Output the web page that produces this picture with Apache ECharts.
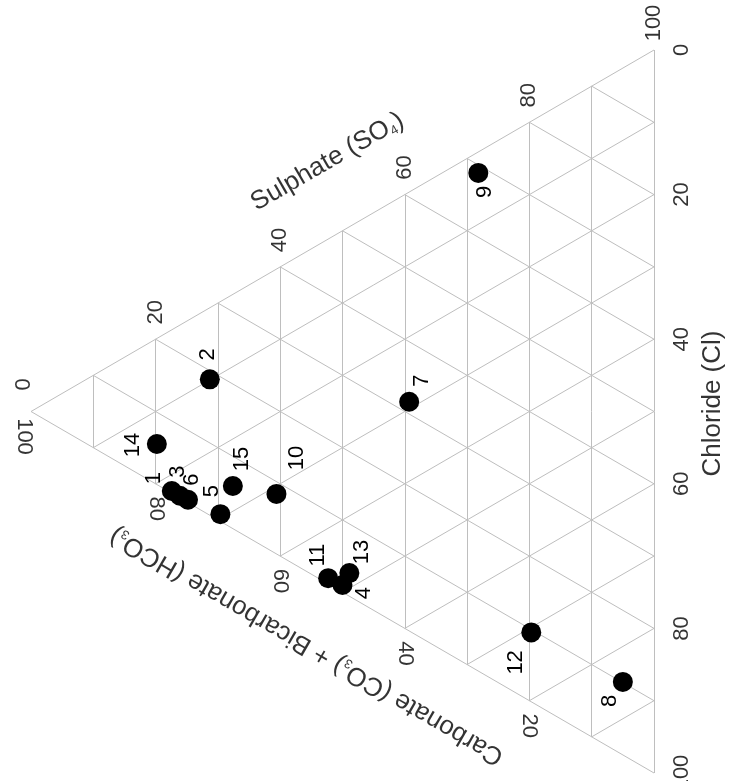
<!DOCTYPE html>
<html>
<head>
<meta charset="utf-8">
<script src="https://cdn.jsdelivr.net/npm/echarts@6/dist/echarts.min.js"></script>
<style>
  html, body { margin: 0; padding: 0; background: #fff; }
  #main { width: 735px; height: 781px; }
</style>
</head>
<body>
<div id="main"></div>
<script>
// anion compositions in %
var sampleIds = ['1', '2', '3', '4', '5', '6', '7', '8', '9', '10', '11', '12', '13', '14', '15'];
var sulphate  = [0.3, 18.8, 0.3, 1.0, 1.0, 0.4, 31.7, 10.1, 68.9, 8.3, 0.8, 9.6, 3.2, 5.6, 5.9];
var chloride  = [22.3, 9.9, 23.6, 49.0, 29.4, 24.8, 29.0, 84.9, 2.9, 31.1, 46.9, 70.7, 47.9, 14.6, 26.5];
var carbonate = [77.4, 71.3, 76.1, 50.0, 69.6, 74.8, 39.3, 5.0, 28.2, 60.6, 52.3, 19.7, 48.9, 79.8, 67.6];

var tickValues = [0, 20, 40, 60, 80, 100];
var gridSteps = [10, 20, 30, 40, 50, 60, 70, 80, 90];

// label nudges in screen px (style only)
var labelNudge = [[-18, -13], [-2, -25], [-2, -24], [21, 8], [-8, -23], [4, -20], [13, -21], [-13, 19],
  [7, 19], [20, -36], [-10, -23], [-15, 30], [13, -21], [-24, 1], [9, -27]];

var FONT = '"Liberation Sans", Arial, Helvetica, sans-serif';
var GRID_COLOR = '#bebebe';
var H = Math.sqrt(3) / 2;

// ternary (carbonate, sulphate, chloride) -> plane
function tern(a, b, c) {
  var s = a + b + c;
  return [(b + c) / s * H, (b - c) / s / 2];
}

// offset given in screen px, compensate for label rotation
function nudge(dx, dy, deg) {
  var r = deg * Math.PI / 180;
  return [dx * Math.cos(r) - dy * Math.sin(r), dx * Math.sin(r) + dy * Math.cos(r)];
}

var gridLines = [];
gridSteps.forEach(function (k) {
  gridLines.push({ coords: [tern(100 - k, k, 0), tern(0, k, 100 - k)] });
  gridLines.push({ coords: [tern(100 - k, 0, k), tern(0, 100 - k, k)] });
  gridLines.push({ coords: [tern(k, 100 - k, 0), tern(k, 0, 100 - k)] });
});
gridLines.push({ coords: [tern(100, 0, 0), tern(0, 100, 0)] });
gridLines.push({ coords: [tern(0, 100, 0), tern(0, 0, 100)] });
gridLines.push({ coords: [tern(0, 0, 100), tern(100, 0, 0)] });

var points = sampleIds.map(function (id, i) {
  var n = labelNudge[i];
  return {
    name: id,
    value: tern(carbonate[i], sulphate[i], chloride[i]),
    label: { offset: nudge(n[0], n[1], 90) }
  };
});

function tickItems(fn, off, rot) {
  return tickValues.map(function (t) {
    // labels at the left apex sit a little further out
    var dx = (fn === sulTick && t === 0) || (fn === carTick && t === 100) ? -7 : 0;
    return { value: fn(t), label: { formatter: String(t), offset: nudge(off[0] + dx, off[1], rot), rotate: rot } };
  });
}
function sulTick(t) { return tern(100 - t, t, 0); }
function cloTick(t) { return tern(0, 100 - t, t); }
function carTick(t) { return tern(t, 0, 100 - t); }

var ticks = []
  .concat(tickItems(sulTick, [0, -27], 90))
  .concat(tickItems(cloTick, [28, 0], 90))
  .concat(tickItems(carTick, [0, 25], -90));

var titles = [
  { value: tern(50, 50, 0), label: { formatter: '{t|Sulphate (SO}{s|4}{t|)}', rotate: 30, offset: nudge(-15, -69, 30) } },
  { value: tern(0, 50, 50), label: { formatter: '{t|Chloride (Cl)}', rotate: 90, offset: nudge(59, -8, 90) } },
  { value: tern(50, 0, 50), label: { formatter: '{t|Carbonate (CO}{s|3}{t|) + Bicarbonate (HCO}{s|3}{t|)}', rotate: 150, offset: nudge(-36, 54, 150) } }
];

var chart = echarts.init(document.getElementById('main'));
chart.setOption({
  animation: false,
  backgroundColor: '#fff',
  grid: { left: 31, top: 50, width: 623, height: 723 },
  xAxis: { type: 'value', min: 0, max: H, show: false },
  yAxis: { type: 'value', min: -0.5, max: 0.5, show: false },
  series: [
    {
      type: 'lines',
      coordinateSystem: 'cartesian2d',
      silent: true,
      clip: false,
      lineStyle: { color: GRID_COLOR, width: 1, opacity: 1 },
      data: gridLines,
      z: 1
    },
    {
      type: 'scatter',
      silent: true,
      clip: false,
      symbolSize: 1,
      itemStyle: { color: 'rgba(0,0,0,0)' },
      label: {
        show: true, position: 'inside', color: '#000', fontSize: 22, fontFamily: FONT,
        align: 'center', verticalAlign: 'middle'
      },
      data: ticks,
      z: 2
    },
    {
      type: 'scatter',
      silent: true,
      clip: false,
      symbolSize: 1,
      itemStyle: { color: 'rgba(0,0,0,0)' },
      label: {
        show: true, position: 'inside', color: '#000', fontFamily: FONT,
        align: 'center', verticalAlign: 'middle',
        rich: {
          t: { fontSize: 26, fontFamily: FONT, color: '#000' },
          s: { fontSize: 13, fontFamily: FONT, color: '#000', verticalAlign: 'bottom' }
        }
      },
      data: titles,
      z: 2
    },
    {
      type: 'scatter',
      silent: true,
      clip: false,
      symbol: 'circle',
      symbolSize: 20,
      itemStyle: { color: '#000', opacity: 1 },
      label: {
        show: true, position: 'inside', formatter: '{b}', rotate: 90,
        color: '#000', fontSize: 22, fontFamily: FONT, align: 'center', verticalAlign: 'middle'
      },
      data: points,
      z: 3
    }
  ]
});
</script>
</body>
</html>
